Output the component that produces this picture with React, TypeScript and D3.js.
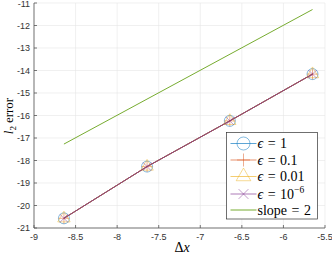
import React, { useRef, useEffect } from "react";
import * as d3 from "d3";

// log of step size vs log of l2 error
const dxVals = [-8.64, -7.64, -6.645, -5.65];
const errEps1 = [-20.57, -18.27, -16.24, -14.16];
const errEps01 = [-20.57, -18.27, -16.24, -14.16];
const errEps001 = [-20.57, -18.27, -16.24, -14.16];
const errEps1e6 = [-20.57, -18.27, -16.24, -14.16];
const slopeX = [-8.64, -5.65];
const slopeY = [-17.27, -11.29];
const xTicks = [-9, -8.5, -8, -7.5, -7, -6.5, -6, -5.5];
const yTicks = [-21, -20, -19, -18, -17, -16, -15, -14, -13, -12, -11];

const W = 332;
const H = 254;

const series = [
  { name: "1", sup: "", ys: errEps1, color: "#0072BD", marker: "circle" },
  { name: "0.1", sup: "", ys: errEps01, color: "#D95319", marker: "plus" },
  { name: "0.01", sup: "", ys: errEps001, color: "#EDB120", marker: "triangle" },
  { name: "10", sup: "\u22126", ys: errEps1e6, color: "#7E2F8E", marker: "cross" },
];
const slopeColor = "#77AC30";

function drawMarker(g, kind, cx, cy, color, r) {
  if (kind === "circle") {
    g.append("circle").attr("cx", cx).attr("cy", cy).attr("r", r)
      .attr("fill", "none").attr("stroke", color).attr("stroke-width", 0.6).attr("stroke-opacity", 0.8);
  } else if (kind === "plus") {
    g.append("path")
      .attr("d", `M${cx - r},${cy}H${cx + r}M${cx},${cy - r}V${cy + r}`)
      .attr("stroke", color).attr("stroke-width", 0.6).attr("stroke-opacity", 0.8);
  } else if (kind === "triangle") {
    const sym = d3.symbol().type(d3.symbolTriangle).size(r * r * 2.2);
    g.append("path").attr("d", sym()).attr("transform", `translate(${cx},${cy})`)
      .attr("fill", "none").attr("stroke", color).attr("stroke-width", 0.6).attr("stroke-opacity", 0.8);
  } else {
    const k = r * 0.75;
    g.append("path")
      .attr("d", `M${cx - k},${cy - k}L${cx + k},${cy + k}M${cx - k},${cy + k}L${cx + k},${cy - k}`)
      .attr("stroke", color).attr("stroke-width", 0.6).attr("stroke-opacity", 0.8);
  }
}

export default function App() {
  const ref = useRef(null);

  useEffect(() => {
    const svg = d3.select(ref.current);
    svg.selectAll("*").remove();

    const x = d3.scaleLinear().domain([-9, -5.5]).range([34, 325]);
    const y = d3.scaleLinear().domain([-21, -11]).range([228, 3]);

    const grid = svg.append("g");
    xTicks.forEach((t) => {
      grid.append("line").attr("x1", x(t)).attr("x2", x(t)).attr("y1", y(-11)).attr("y2", y(-21))
        .attr("stroke", "#e6e6e6").attr("stroke-width", 0.6);
    });
    yTicks.forEach((t) => {
      grid.append("line").attr("x1", x(-9)).attr("x2", x(-5.5)).attr("y1", y(t)).attr("y2", y(t))
        .attr("stroke", "#e6e6e6").attr("stroke-width", 0.6);
    });

    // axes
    const ax = svg.append("g").attr("stroke", "#555").attr("stroke-width", 0.8);
    ax.append("line").attr("x1", x(-9)).attr("x2", x(-9)).attr("y1", y(-11)).attr("y2", y(-21));
    ax.append("line").attr("x1", x(-9)).attr("x2", x(-5.5)).attr("y1", y(-21)).attr("y2", y(-21));
    xTicks.forEach((t) => {
      ax.append("line").attr("x1", x(t)).attr("x2", x(t)).attr("y1", y(-21)).attr("y2", y(-21) - 3);
    });
    yTicks.forEach((t) => {
      ax.append("line").attr("x1", x(-9)).attr("x2", x(-9) + 3).attr("y1", y(t)).attr("y2", y(t));
    });

    const lab = svg.append("g").attr("font-family", "Liberation Sans, Arial, sans-serif")
      .attr("font-size", 9).attr("fill", "#333");
    xTicks.forEach((t) => {
      lab.append("text").attr("x", x(t)).attr("y", 240).attr("text-anchor", "middle").text(String(t));
    });
    yTicks.forEach((t) => {
      lab.append("text").attr("x", 30).attr("y", Math.max(y(t) + 3.2, 7)).attr("text-anchor", "end").text(String(t));
    });

    // slope reference line
    const line = d3.line().x((d) => x(d[0])).y((d) => y(d[1]));
    svg.append("path").attr("d", line(d3.zip(slopeX, slopeY))).attr("fill", "none")
      .attr("stroke", slopeColor).attr("stroke-width", 1);

    series.forEach((s) => {
      const g = svg.append("g");
      g.append("path").attr("d", line(d3.zip(dxVals, s.ys))).attr("fill", "none")
        .attr("stroke", s.color).attr("stroke-width", 0.9);
      dxVals.forEach((v, i) => drawMarker(g, s.marker, x(v), y(s.ys[i]), s.color, 5.5));
    });

    // legend
    const lg = svg.append("g").attr("transform", "translate(226.5,132.5)");
    lg.append("rect").attr("width", 91).attr("height", 86.5).attr("fill", "white")
      .attr("stroke", "#333").attr("stroke-width", 0.7);
    const rowY = [11, 27.5, 44, 61.5, 77.5];
    series.forEach((s, i) => {
      lg.append("line").attr("x1", 4).attr("x2", 30).attr("y1", rowY[i]).attr("y2", rowY[i])
        .attr("stroke", s.color).attr("stroke-width", 0.8).attr("stroke-opacity", 0.8);
      drawMarker(lg, s.marker, 17, rowY[i], s.color, 6.5);
      const t = lg.append("text").attr("x", 31).attr("y", rowY[i] + 4.5)
        .attr("font-family", "Liberation Serif, serif").attr("font-size", 14).attr("fill", "#000");
      t.append("tspan").attr("font-style", "italic").text("\u03f5");
      t.append("tspan").attr("dx", 4.5).text("=");
      t.append("tspan").attr("dx", 4.5).text(s.name);
      if (s.sup) t.append("tspan").attr("dy", -5.5).attr("font-size", 9.5).text(s.sup);
    });
    lg.append("line").attr("x1", 4).attr("x2", 30).attr("y1", rowY[4]).attr("y2", rowY[4])
      .attr("stroke", slopeColor).attr("stroke-width", 1);
    const st = lg.append("text").attr("x", 31).attr("y", rowY[4] + 4.5)
      .attr("font-family", "Liberation Serif, serif").attr("font-size", 14).attr("fill", "#000");
    st.append("tspan").text("slope");
    st.append("tspan").attr("dx", 4.5).text("=");
    st.append("tspan").attr("dx", 4.5).text("2");

    // axis titles
    const xl = svg.append("text").attr("x", 182).attr("y", 252).attr("text-anchor", "middle")
      .attr("font-family", "Liberation Serif, serif").attr("font-size", 14).attr("fill", "#000");
    xl.append("tspan").text("\u0394");
    xl.append("tspan").attr("font-style", "italic").text("x");

    const yl = svg.append("text").attr("transform", "translate(13,116) rotate(-90)")
      .attr("text-anchor", "middle").attr("font-family", "Liberation Serif, serif")
      .attr("font-size", 13).attr("fill", "#000");
    yl.append("tspan").attr("font-style", "italic").text("l");
    yl.append("tspan").attr("dy", 3).attr("font-size", 9).text("2");
    yl.append("tspan").attr("dy", -3).attr("dx", 3).text("error");
  }, []);

  return (
    <svg ref={ref} width={W} height={H}
      style={{ position: "absolute", left: 0, top: 0, background: "white" }} />
  );
}
